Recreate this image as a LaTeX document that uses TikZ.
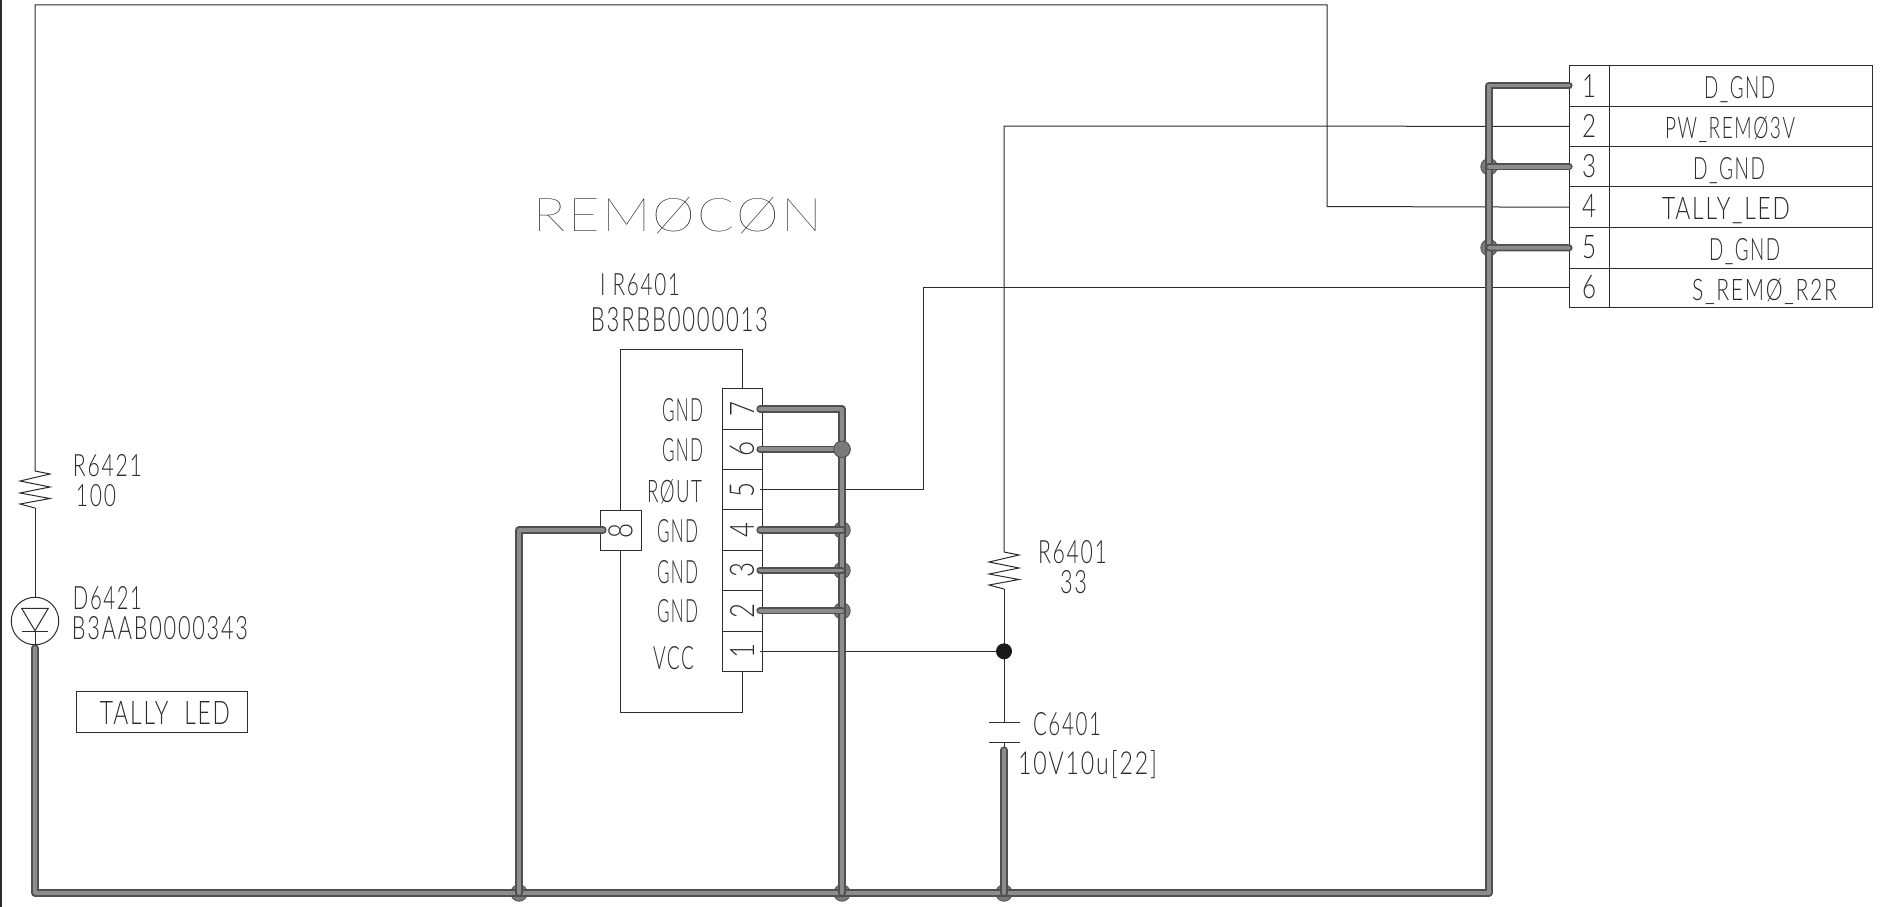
\documentclass[tikz,border=0pt]{standalone}
\usepackage{fontspec}
\usepackage{graphicx}
\setmainfont{Lato}[UprightFont=* Light,LetterSpace=8]
\newfontfamily\titlefont{Lato}[UprightFont=* Thin,LetterSpace=4]
\definecolor{inkline}{HTML}{2C2C2C}
\definecolor{busedge}{HTML}{505050}
\definecolor{busfill}{HTML}{8C8C8C}
\definecolor{dotfill}{HTML}{7A7A7A}
\newcommand{\fitted}[3]{\resizebox{#1pt}{#2pt}{#3}}
\tikzset{
  wire/.style={draw=inkline,line width=1pt},
  bus/.style={preaction={draw=busedge,line width=7.2pt,line cap=round,line join=round},draw=busfill,line width=3.8pt,line cap=round,line join=round},
  gdot/.style={circle,fill=dotfill,draw=busedge,line width=.8pt,minimum size=16.5pt,inner sep=0pt},
  bdot/.style={circle,fill=black!90,draw=none,minimum size=16pt,inner sep=0pt},
  lab/.style={inner sep=0pt,outer sep=0pt,anchor=base,text=inkline,yshift=1pt},
  pinbox/.style={draw=inkline,line width=1pt,inner sep=0pt,minimum width=40pt,minimum height=40.4pt},
  rowbox/.style={draw=inkline,line width=.85pt,inner sep=0pt},
}
\begin{document}
\begin{tikzpicture}[x=1pt,y=-1pt]
\useasboundingbox (0,0) rectangle (1881,907);
\fill[white] (0,0) rectangle (1881,907);
\draw[wire,line width=1.6pt] (0.8,0) -- (0.8,907);
% IC body
\coordinate (icA) at (742,389);
\coordinate (icB) at (742,349);
\coordinate (icC) at (620,349);
\coordinate (icD) at (620,510);
\coordinate (icE) at (620,551);
\coordinate (icF) at (620,712);
\coordinate (icG) at (742,712);
\coordinate (icH) at (742,672);
\draw[wire] (icA) -- (icB) -- (icC) -- (icD);
\draw[wire] (icE) -- (icF) -- (icG) -- (icH);
% IC pins
\foreach \n/\y in {7/409,6/449.3,5/489.7,4/530,3/570.4,2/610.8,1/651.3}{
  \node[pinbox] (p\n) at (742,\y) {};
  \node[inner sep=0pt,rotate=90,text=inkline] (pt\n) at (742,\y) {\fitted{15}{24}{\n}};
  \coordinate (pw\n) at (760,\y);
}
\node[pinbox,minimum width=41pt] (p8) at (620.5,530.5) {};
\node[inner sep=0pt,rotate=90,text=inkline] (pt8) at (620.5,530.5) {\fitted{15}{24}{8}};
\coordinate (pw8) at (603,530);
% connector
\foreach \n/\t/\b in {1/65/106,2/106/146.7,3/146.7/186.7,4/186.7/227.7,5/227.7/268,6/268/307}{
  \node[rowbox,minimum width=40pt,minimum height=\b pt-\t pt] (ca\n) at (1589,{(\t+\b)/2}) {};
  \node[rowbox,minimum width=263pt,minimum height=\b pt-\t pt] (cb\n) at (1740.5,{(\t+\b)/2}) {};
  \coordinate (cw\n) at (1569,{(\t+\b)/2});
}
\foreach \n/\y in {1/98,2/138,3/178,4/218,5/259,6/299}{
  \node[lab] (cn\n) at (1589,\y) {\fitted{14}{23}{\n}};
}
\node[lab] (cl1) at (1739.5,99) {\fitted{71}{22}{D\_GND}};
\node[lab] (cl2) at (1730,139) {\fitted{130}{22}{PW\_REMØ3V}};
\node[lab] (cl3) at (1729,180) {\fitted{72}{22}{D\_GND}};
\node[lab] (cl4) at (1726,220) {\fitted{128}{22}{TALLY\_LED}};
\node[lab] (cl5) at (1744.5,261) {\fitted{71}{22}{D\_GND}};
\node[lab] (cl6) at (1764.5,301) {\fitted{145}{22}{S\_REMØ\_R2R}};
% thin wires
\coordinate (tallyA) at (35,5);
\coordinate (tallyB) at (1327,5);
\coordinate (tallyC) at (1327,206.5);
\coordinate (r1top) at (35,471);
\coordinate (r1bot) at (35,508);
\coordinate (ledT) at (35,597.7);
\coordinate (ledB) at (35,648);
\coordinate (r2top) at (1004,552);
\coordinate (r2bot) at (1004,589);
\coordinate (capT) at (1004,722.3);
\coordinate (capB) at (1004,742);
\coordinate (capW) at (1004,750);
\coordinate (pwA) at (1004,126);
\coordinate (rtA) at (923,489.7);
\coordinate (rtB) at (923,287.5);
\draw[wire] (r1top) -- (tallyA) -- (tallyB) -- (tallyC) -- (cw4);
\draw[wire] (r1bot) -- (ledT);
\draw[wire] (r2top) -- (pwA) -- (cw2);
\draw[wire] (pw5) -- (rtA) -- (rtB) -- (cw6);
\draw[wire] (pw1) -- (1004,651.3);
\draw[wire] (r2bot) -- (capT);
% resistors
\draw[wire] (r1top) -- ++(15,3) -- ++(-30,7) -- ++(30,6) -- ++(-30,6) -- ++(30,5.5) -- ++(-30,5.5) -- (r1bot);
\draw[wire] (r2top) -- ++(15,3) -- ++(-30,7) -- ++(30,6) -- ++(-30,6) -- ++(30,5.5) -- ++(-30,5.5) -- (r2bot);
% led
\node[circle,draw=inkline,line width=1pt,minimum size=47.5pt,inner sep=0pt] (led) at (35,621) {};
\draw[wire] (21.7,608.3) -- (48.3,608.3) -- (35,630.7) -- cycle;
\draw[wire] (22,631) -- (48,631);
\draw[wire] (35,631) -- (ledB);
% cap
\draw[wire] (989,722.3) -- (1020,722.3);
\draw[wire] (989,742) -- (1020,742);
\draw[wire] (capB) -- (capW);
% junctions
\foreach \x/\y [count=\i] in {519/893,842/893,1004/893,842/449.3,842/530,842/570.4,842/610.8,1489/166.7,1489/247.7}{
  \node[gdot] (j\i) at (\x,\y) {};
}
\node[bdot] (j0) at (1004,651.3) {};
% buses
\coordinate (busSW) at (35,893);
\coordinate (busSE) at (1489,893);
\coordinate (busNE) at (1489,85.5);
\coordinate (b8) at (519,530);
\coordinate (b7) at (842,409);
\draw[bus] (35,648) -- (busSW) -- (busSE) -- (busNE) -- (cw1);
\draw[bus] (pw8) -- (b8) -- (j1.center);
\draw[bus] (pw7) -- (b7) -- (j2.center);
\draw[bus] (capW) -- (j3.center);
\draw[bus] (pw6) -- (j4.center);
\draw[bus] (pw4) -- (j5.center);
\draw[bus] (pw3) -- (j6.center);
\draw[bus] (pw2) -- (j7.center);
\draw[bus] (j8.center) -- (cw3);
\draw[bus] (j9.center) -- (cw5);
\node[gdot] (j4top) at (842,449.3) {};
% labels
\node[lab] (tR1) at (107.5,477) {\fitted{69}{22}{R6421}};
\node[lab] (tV1) at (96,507) {\fitted{40}{22}{100}};
\node[lab] (tD1) at (107.5,610) {\fitted{69}{23}{D6421}};
\node[lab] (tD2) at (160,640) {\fitted{176}{23}{B3AAB0000343}};
\node[rowbox,minimum width=171pt,minimum height=40.5pt] (tb) at (161.5,712) {};
\node[lab] (tT) at (165,725) {\fitted{130}{23}{TALLY\ \ LED}};
\node[lab] (tR2) at (1072.5,564) {\fitted{69}{23}{R6401}};
\node[lab] (tV2) at (1073.5,594) {\fitted{27}{23}{33}};
\node[lab] (tC) at (1067,736) {\fitted{68}{23}{C6401}};
\node[lab] (tCv) at (1087.5,775) {\fitted{139}{24}{10V10u[22]}};
\node[lab] (tI1) at (640,296) {\fitted{80}{22}{I R6401}};
\node[lab] (tI2) at (679.5,332) {\fitted{177}{24}{B3RBB0000013}};
\node[lab] (g7) at (682.5,422) {\fitted{41}{23}{GND}};
\node[lab] (g6) at (682.5,462) {\fitted{41}{23}{GND}};
\node[lab] (ro) at (674.5,503) {\fitted{55}{23}{RØUT}};
\node[lab] (g4) at (677.5,543) {\fitted{41}{23}{GND}};
\node[lab] (g3) at (677.5,584) {\fitted{41}{23}{GND}};
\node[lab] (g2) at (677.5,623) {\fitted{41}{23}{GND}};
\node[lab] (vc) at (673.5,670) {\fitted{41}{23}{VCC}};
\node[lab,text=black] (title) at (678,232) {\titlefont\fitted{288}{34}{REMØCØN}};
\end{tikzpicture}
\end{document}
